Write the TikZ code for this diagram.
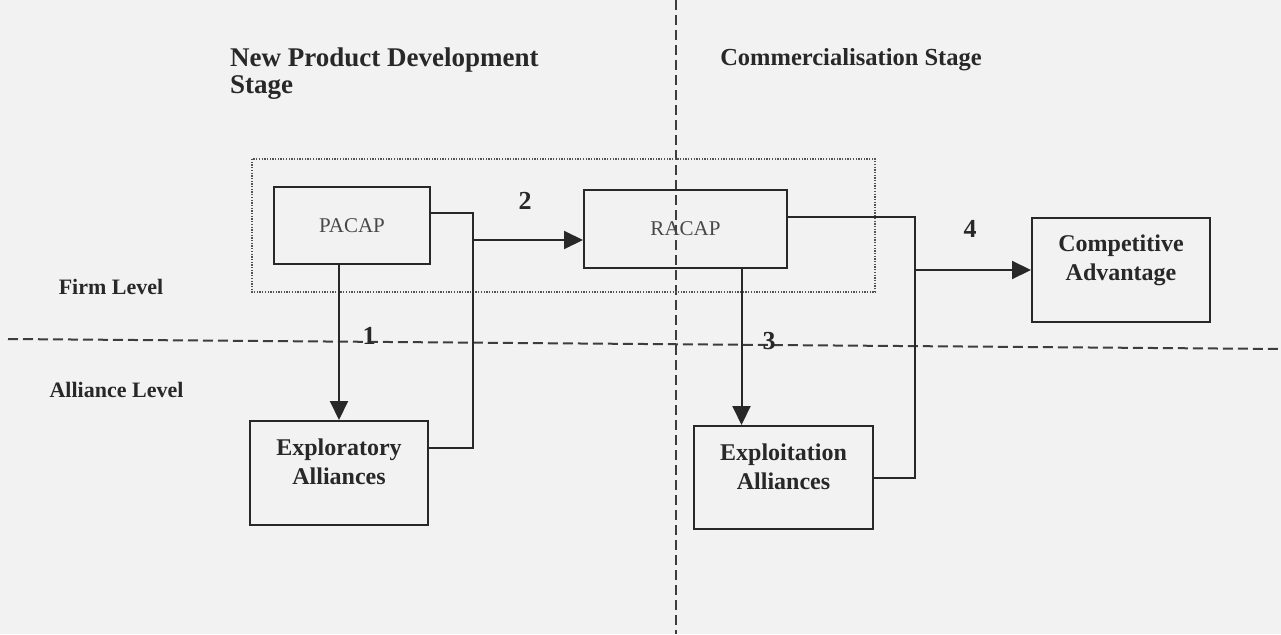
\documentclass[tikz,border=0pt]{standalone}
\usepackage{fontspec}
\setmainfont{Liberation Serif}
\usetikzlibrary{arrows.meta}
\definecolor{bg}{RGB}{242,242,242}
\definecolor{ink}{RGB}{40,40,40}
\begin{document}
\begin{tikzpicture}[x=1pt,y=-1pt,
  box/.style={draw=ink, line width=2pt, inner sep=0pt},
  link/.style={draw=ink, line width=2pt},
  arr/.style={draw=ink, line width=2pt, -{Triangle[length=19pt,width=18pt]}},
  lbl/.style={font=\bfseries\fontsize{24}{29}\selectfont, text=ink, align=center},
  captext/.style={font=\fontsize{21}{24}\selectfont, text=ink!85},
  num/.style={font=\bfseries\fontsize{26}{30}\selectfont, text=ink},
  side/.style={font=\bfseries\fontsize{22}{26}\selectfont, text=ink, anchor=base},
  sep/.style={draw=ink!90, line width=2pt, dash pattern=on 10pt off 5pt},
  zone/.style={draw=ink!80, line width=1.4pt, dash pattern=on 1.3pt off 1.4pt}]
\fill[bg] (0,0) rectangle (1281,634);
\useasboundingbox (0,0) rectangle (1281,634);

% separators
\coordinate (hl) at (8,339);
\coordinate (hr) at (1281,349);
\coordinate (vt) at (676,0);
\coordinate (vb) at (676,634);
\draw[sep] (hl) -- (hr);
\draw[sep] (vt) -- (vb);

% dotted zone
\coordinate (z1) at (252,159);
\coordinate (z2) at (875,292);
\draw[zone] (z1) rectangle (z2);

% titles
\node[font=\bfseries\fontsize{27}{27}\selectfont, text=ink, align=left, anchor=west, inner sep=0pt] (npd) at (230,74) {New Product Development\\Stage};
\node[font=\bfseries\fontsize{24.5}{28}\selectfont, text=ink, anchor=base] (com) at (851,66) {Commercialisation Stage};
\node[side] (firm) at (111,294) {Firm Level};
\node[side] (alli) at (116.5,397) {Alliance Level};

% boxes
\node[box, minimum width=156pt, minimum height=77pt, captext] (pacap) at (352,225.5) {PACAP};
\node[box, minimum width=203pt, minimum height=78pt, captext] (racap) at (685.5,229) {RACAP};
\node[box, minimum width=178pt, minimum height=104pt,
  label={[lbl,yshift=11pt]center:{Exploratory\\Alliances}}] (expl) at (339,473) {};
\node[box, minimum width=179pt, minimum height=103pt,
  label={[lbl,yshift=11pt]center:{Exploitation\\Alliances}}] (expt) at (783.5,477.5) {};
\node[box, minimum width=178pt, minimum height=104pt,
  label={[lbl,yshift=10pt]center:{Competitive\\Advantage}}] (comp) at (1121,270) {};

% connectors
\draw[link] ([yshift=12.5pt]pacap.east) -- ++(42,0) |- ([yshift=25pt]expl.east);
\coordinate (j2) at (472,240);
\draw[arr] (j2) -- (j2 -| racap.west);
\draw[arr] (pacap.south -| expl.north) -- (expl.north);
\draw[link] ([yshift=12pt]racap.east) -- ++(127,0) |- (expt.east);
\draw[arr] ([xshift=56pt]racap.south) coordinate (r3) -- (r3 |- expt.north);
\coordinate (j4) at (914,270);
\draw[arr] (j4) -- (comp.west);

% numbers
\node[num] (n1) at (369,336) {1};
\node[num] (n2) at (525,201) {2};
\node[num] (n3) at (769,341) {3};
\node[num] (n4) at (970,229) {4};
\end{tikzpicture}
\end{document}
